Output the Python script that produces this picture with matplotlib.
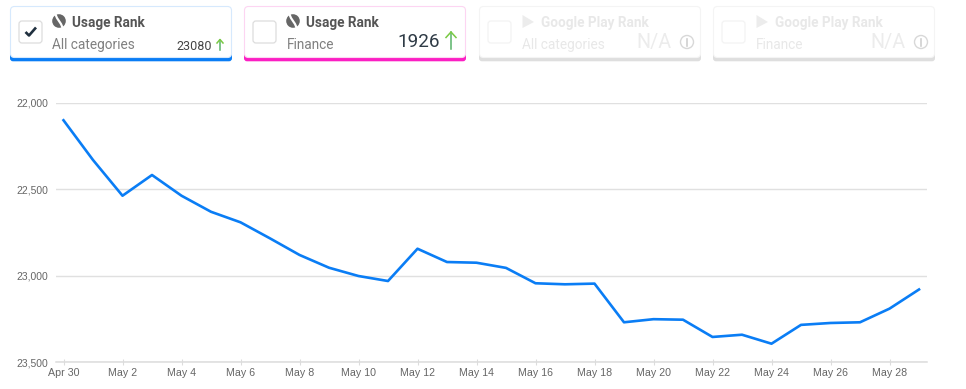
import matplotlib
matplotlib.use("Agg")
import matplotlib.pyplot as plt
from matplotlib.patches import FancyBboxPatch, Circle, Polygon, Rectangle

W, H = 966, 389
days = list(range(30))
ranks = [22100, 22330, 22537, 22417, 22537, 22630, 22691, 22784, 22880, 22954,
         23002, 23031, 22844, 22921, 22925, 22955, 23044, 23050, 23046, 23270,
         23252, 23255, 23355, 23342, 23394, 23285, 23274, 23270, 23191, 23080]
tick_days = list(range(0, 30, 2))
tick_labels = ["Apr 30", "May 2", "May 4", "May 6", "May 8", "May 10", "May 12", "May 14",
               "May 16", "May 18", "May 20", "May 22", "May 24", "May 26", "May 28"]
y_ticks = [22000, 22500, 23000, 23500]
y_labels = ["22,000", "22,500", "23,000", "23,500"]

fig = plt.figure(figsize=(W / 100, H / 100), dpi=100, facecolor="white")

# chart
L, R, T, B = 56, 927, 103, 362
ax = fig.add_axes([L / W, 1 - B / H, (R - L) / W, (B - T) / H])
ax.plot(days, ranks, color="#0a7df5", lw=1.9, solid_joinstyle="round", clip_on=False, zorder=3)
ax.set_ylim(23500, 22000)
ax.set_xlim((L - 63.5) / 29.5, (R - 63.5) / 29.5)
for s in ["top", "left", "right"]:
    ax.spines[s].set_visible(False)
ax.spines["bottom"].set_color("#dcdcdc")
ax.spines["bottom"].set_linewidth(1.1)
ax.set_yticks(y_ticks, y_labels, fontfamily="Liberation Sans", fontsize=7.5, color="#666666")
ax.set_xticks(tick_days, tick_labels, fontfamily="Liberation Sans", fontsize=7.7, color="#666666")
ax.tick_params(axis="y", length=0, pad=5.5, grid_color="#e0e0e0", grid_linewidth=1.0)
ax.tick_params(axis="x", length=4, width=0.8, color="#dcdcdc", pad=2.5, direction="inout")
ax.grid(axis="y")
ax.set_axisbelow(True)

# overlay for the cards, in pixel units
ov = fig.add_axes([0, 0, 1, 1], facecolor="none")
ov.set_xlim(0, W)
ov.set_ylim(H, 0)
ov.axis("off")

FAM = "Roboto"


def card(x0, x1, accent, border, title, sub, active, icon, check=False):
    y0, y1 = 6.5, 61.3
    ov.add_patch(FancyBboxPatch((x0, y0 + 40), x1 - x0, y1 - y0 - 40,
                                boxstyle="round,pad=0,rounding_size=3", mutation_scale=1,
                                fc=accent, ec="none", zorder=1))
    ov.add_patch(FancyBboxPatch((x0 + .5, y0), x1 - x0 - 1, 51,
                                boxstyle="round,pad=0,rounding_size=4", mutation_scale=1,
                                fc="white", ec=border, lw=0.8, zorder=2))
    bx = x0 + 9
    ov.add_patch(FancyBboxPatch((bx, 21), 23, 22, boxstyle="round,pad=0,rounding_size=3",
                                mutation_scale=1, fc="white", ec="#dddddd" if active else "#f3f3f3",
                                lw=0.9, zorder=3))
    if check:
        ov.plot([bx + 6.5, bx + 10, bx + 17], [32, 35.5, 27.5], color="#20303f", lw=1.9, zorder=4,
                solid_capstyle="butt")
    ix = x0 + 49
    if icon == "s":
        ov.add_patch(Circle((ix, 21), 6.8, fc="#666666", ec="none", zorder=3))
        ov.plot([ix - 3.5, ix - 2, ix + 2, ix + 3.5], [14.5, 18, 24, 27.5], color="white", lw=1.6, zorder=4)
    else:
        ov.add_patch(Polygon([(ix - 5.5, 15), (ix + 6, 22), (ix - 5.5, 28)], fc="#ececec", ec="none", zorder=3))
    ov.text(x0 + 62, 23, title, family=FAM, weight="bold", fontsize=9.8,
            color="#555555" if active else "#e8e8e8", va="center", ha="left", zorder=4)
    ov.text(x0 + 42.5, 45, sub, family=FAM, fontsize=9.8,
            color="#808080" if active else "#e8e8e8", va="center", ha="left", zorder=4)


card(10, 232, "#0a7df5", "#d6e9fd", "Usage Rank", "All categories", True, "s", True)
card(244, 466, "#fb1fc3", "#fdd5f2", "Usage Rank", "Finance", True, "s")
card(479, 701, "#dedede", "#f4f4f4", "Google Play Rank", "All categories", False, "g")
card(713, 935, "#dedede", "#f4f4f4", "Google Play Rank", "Finance", False, "g")


def arrow(x, y0, y1, size):
    ov.plot([x, x], [y0, y1], color="#58b368", lw=1.1, zorder=5)
    ov.plot([x - size, x, x + size], [y0 + size + 0.5, y0, y0 + size + 0.5], color="#7ac943", lw=1.1, zorder=5)


ov.text(212, 46, "23080", family=FAM, fontsize=9, color="#444444", ha="right", va="center", zorder=5)
arrow(220, 39.5, 50, 3)
ov.text(440, 42, "1926", family=FAM, fontsize=13.6, color="#2f3b46", ha="right", va="center", zorder=5)
arrow(451, 32, 49, 5)
for rx, ix in [(671, 687), (905, 921)]:
    ov.text(rx, 42, "N/A", family=FAM, fontsize=14.2, color="#ececec", ha="right", va="center", zorder=5)
    ov.add_patch(Circle((ix, 42), 6.5, fc="white", ec="#d8d8d8", lw=1, zorder=5))
    ov.plot([ix, ix], [39, 46], color="#d0d0d0", lw=1.2, zorder=6)

fig.savefig("out.png", dpi=100)
